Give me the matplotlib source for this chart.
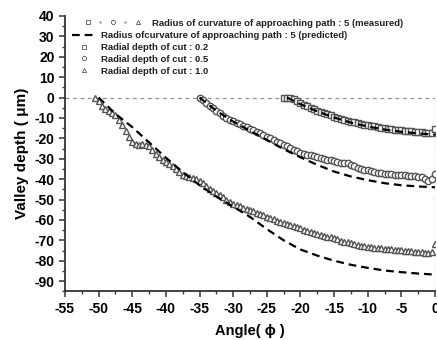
import numpy as np
import matplotlib
matplotlib.use("Agg")
import matplotlib.pyplot as plt
from matplotlib.lines import Line2D
from matplotlib.legend_handler import HandlerTuple

plt.rcParams['font.family'] = ['Liberation Sans', 'DejaVu Sans']
plt.rcParams['axes.unicode_minus'] = False

# measured valley depth, sampled every 0.5 deg
ang_02 = np.arange(-22.5, 0.01, 0.5)
depth_02 = [0, 0, 0, -0.5, -1.5, -2.5, -3.5, -4.2, -5, -5.7,
            -6.4, -7, -7.6, -8.2, -8.8, -9.4, -9.9, -10.4, -10.9, -11.4,
            -11.8, -12.2, -12.6, -13, -13.3, -13.6, -13.9, -14.2, -14.5, -14.8,
            -15, -15.3, -15.5, -15.7, -15.9, -16.1, -16.3, -16.5, -16.6, -16.8,
            -16.9, -17.1, -17.3, -17.6, -17.5, -15.5]

ang_05 = np.arange(-35, 0.01, 0.5)
depth_05 = [0, -1.3, -2.8, -4, -5.3, -6.6, -7.8, -9.2, -10, -10.8,
            -11.6, -12.3, -13, -13.8, -14.5, -15.2, -16, -16.8, -17.6, -18.4,
            -19.2, -19.9, -20.8, -21.6, -22.4, -23.2, -24, -24.8, -25.5, -26.3,
            -27.2, -27.6, -28, -28.4, -28.8, -29.2, -29.6, -30, -30.4, -30.7,
            -31, -31.5, -32, -32.2, -32, -33, -33.8, -34.4, -34.9, -35.3,
            -35.7, -36.1, -36.5, -36.8, -37.1, -37.3, -37.5, -37.7, -37.8, -38,
            -38.1, -38.2, -38.4, -38.5, -38.7, -38.9, -39.2, -39.8, -40.8, -40,
            -37.5]

ang_10 = np.arange(-50.5, 0.01, 0.5)
depth_10 = [0, -1.5, -4, -5.5, -6.5, -7.5, -8.5, -11, -13.5, -16.5,
            -19.5, -22, -23, -23.2, -23, -23.2, -24, -25.5, -27.5, -29,
            -30.5, -31.5, -32.5, -33.5, -35, -36.5, -38, -38.5, -38.8, -39.5,
            -40, -40.8, -42, -43.5, -44.8, -46, -47, -48, -49, -50,
            -51, -52, -52.6, -53.3, -54, -54.6, -55.2, -55.8, -56.5, -57.1,
            -57.8, -58.4, -59, -59.7, -60.3, -61, -61.6, -62.1, -62.6, -63.1,
            -63.6, -64.2, -64.7, -65.2, -65.8, -66.2, -66.7, -67.2, -67.7, -68.2,
            -68.6, -69.1, -69.6, -70.1, -70.6, -71, -71.5, -71.9, -72.3, -72.6,
            -72.9, -73.2, -73.4, -73.6, -73.8, -74, -74.2, -74.3, -74.4, -74.6,
            -74.7, -74.9, -75, -75.2, -75.3, -75.5, -75.6, -75.8, -76, -76.3,
            -75.5, -72]

# predicted curves
pred_ang_02 = [-22, -20, -17.5, -15, -12.5, -10, -7.5, -5, -2.5, 0]
pred_02 = [0, -3.3, -6.8, -9.8, -12.3, -14.2, -15.7, -16.8, -17.6, -18.2]

pred_ang_05 = [-35, -32.5, -30, -27.5, -25, -22.5, -20, -17.5, -15, -12.5, -10, -7.5, -5, -2.5, 0]
pred_05 = [0, -6.5, -11.8, -16.3, -20.8, -25.3, -29.3, -33, -36.3, -38.7, -40.5, -42, -43, -43.6, -44]

pred_ang_10 = [-50, -47.5, -45, -42.5, -40, -37.5, -35, -32.5, -30, -27.5, -25,
               -22.5, -20, -17.5, -15, -12.5, -10, -7.5, -5, -2.5, 0]
pred_10 = [0, -8, -14.5, -22, -29.5, -36.5, -43, -48.5, -53.5, -58.5, -64.5,
           -70, -74.5, -77.5, -80, -82, -83.5, -84.8, -85.6, -86.3, -86.8]

mk_col = '#555555'
fig = plt.figure(figsize=(4.37, 3.4), dpi=100)
ax = fig.add_axes([0.1487, 0.1432, 0.8467, 0.81])

# reference lines
ax.axhline(0, color='#909090', lw=0.9, dashes=(3, 3), zorder=1)
ax.plot([0, 0], [0, -95], color='#909090', lw=0.9, dashes=(3, 3), zorder=1)

ms = 4.6
ax.plot(ang_02, depth_02, ls='none', marker='s', ms=ms - 0.4, mfc='white', mec=mk_col, mew=1.0, zorder=2)
ax.plot(ang_05, depth_05, ls='none', marker='o', ms=ms, mfc='white', mec=mk_col, mew=1.0, zorder=2)
ax.plot(ang_10, depth_10, ls='none', marker='^', ms=ms, mfc='white', mec=mk_col, mew=1.0, zorder=2)

for xs, ys in [(pred_ang_02, pred_02), (pred_ang_05, pred_05), (pred_ang_10, pred_10)]:
    ax.plot(xs, ys, color='black', lw=1.6, dashes=(3.5, 2.2), zorder=3)

ax.set_xlim(-55, 0)
ax.set_ylim(-95, 40)
ax.set_xticks(np.arange(-55, 1, 5))
ax.set_xticks(np.arange(-52.5, 0, 5), minor=True)
ax.set_yticks(np.arange(-90, 41, 10))
ax.set_yticks(np.arange(-95, 40, 10), minor=True)
ax.spines['top'].set_visible(False)
ax.spines['right'].set_visible(False)
for s in ['left', 'bottom']:
    ax.spines[s].set_linewidth(1.3)
    ax.spines[s].set_color('#333333')
ax.tick_params(which='major', direction='out', length=4, width=1.1, color='#333333')
ax.tick_params(which='minor', direction='out', length=2, width=1, color='#333333')
for lab in ax.get_xticklabels() + ax.get_yticklabels():
    lab.set_fontsize(10)
    lab.set_fontweight('bold')

ax.set_xlabel('Angle( \u03d5 )', fontsize=10.5, fontweight='bold', labelpad=6)
ax.set_ylabel('Valley depth ( \u03bcm)', fontsize=11, fontweight='bold', labelpad=4)

# legend
lkw = dict(ls='none', mfc='white', mec=mk_col, mew=0.6, ms=3)
h_sq = Line2D([], [], marker='s', **lkw)
h_ci = Line2D([], [], marker='o', **lkw)
h_tr = Line2D([], [], marker='^', **lkw)
h_dot = Line2D([], [], marker='.', ls='none', color='#999999', ms=1.5)
h_dash = Line2D([], [], color='black', lw=1.6, dashes=(3.5, 2.2))

leg_font = dict(size=6.8, weight='bold')
leg1 = ax.legend([(h_sq, h_dot, h_ci, h_dot, h_tr)],
                 ['Radius of curvature of approaching path : 5 (measured)'],
                 handler_map={tuple: HandlerTuple(ndivide=None, pad=0)},
                 loc='upper left', bbox_to_anchor=(0.045, 0.99), frameon=False,
                 prop=leg_font, handlelength=6.6, handletextpad=0.9, borderpad=0,
                 borderaxespad=0)
for t in leg1.get_texts():
    t.set_color('#222222')
ax.add_artist(leg1)
leg2 = ax.legend([h_dash, h_sq, h_ci, h_tr],
                 ['Radius ofcurvature of approaching path : 5 (predicted)',
                  'Radial depth of cut : 0.2',
                  'Radial depth of cut : 0.5',
                  'Radial depth of cut : 1.0'],
                 loc='upper left', bbox_to_anchor=(0.02, 0.945), frameon=False,
                 prop=leg_font, handlelength=2.5, handletextpad=0.55, borderpad=0,
                 borderaxespad=0, labelspacing=0.3)
for t in leg2.get_texts():
    t.set_color('#222222')

fig.savefig('out.png', dpi=100)
